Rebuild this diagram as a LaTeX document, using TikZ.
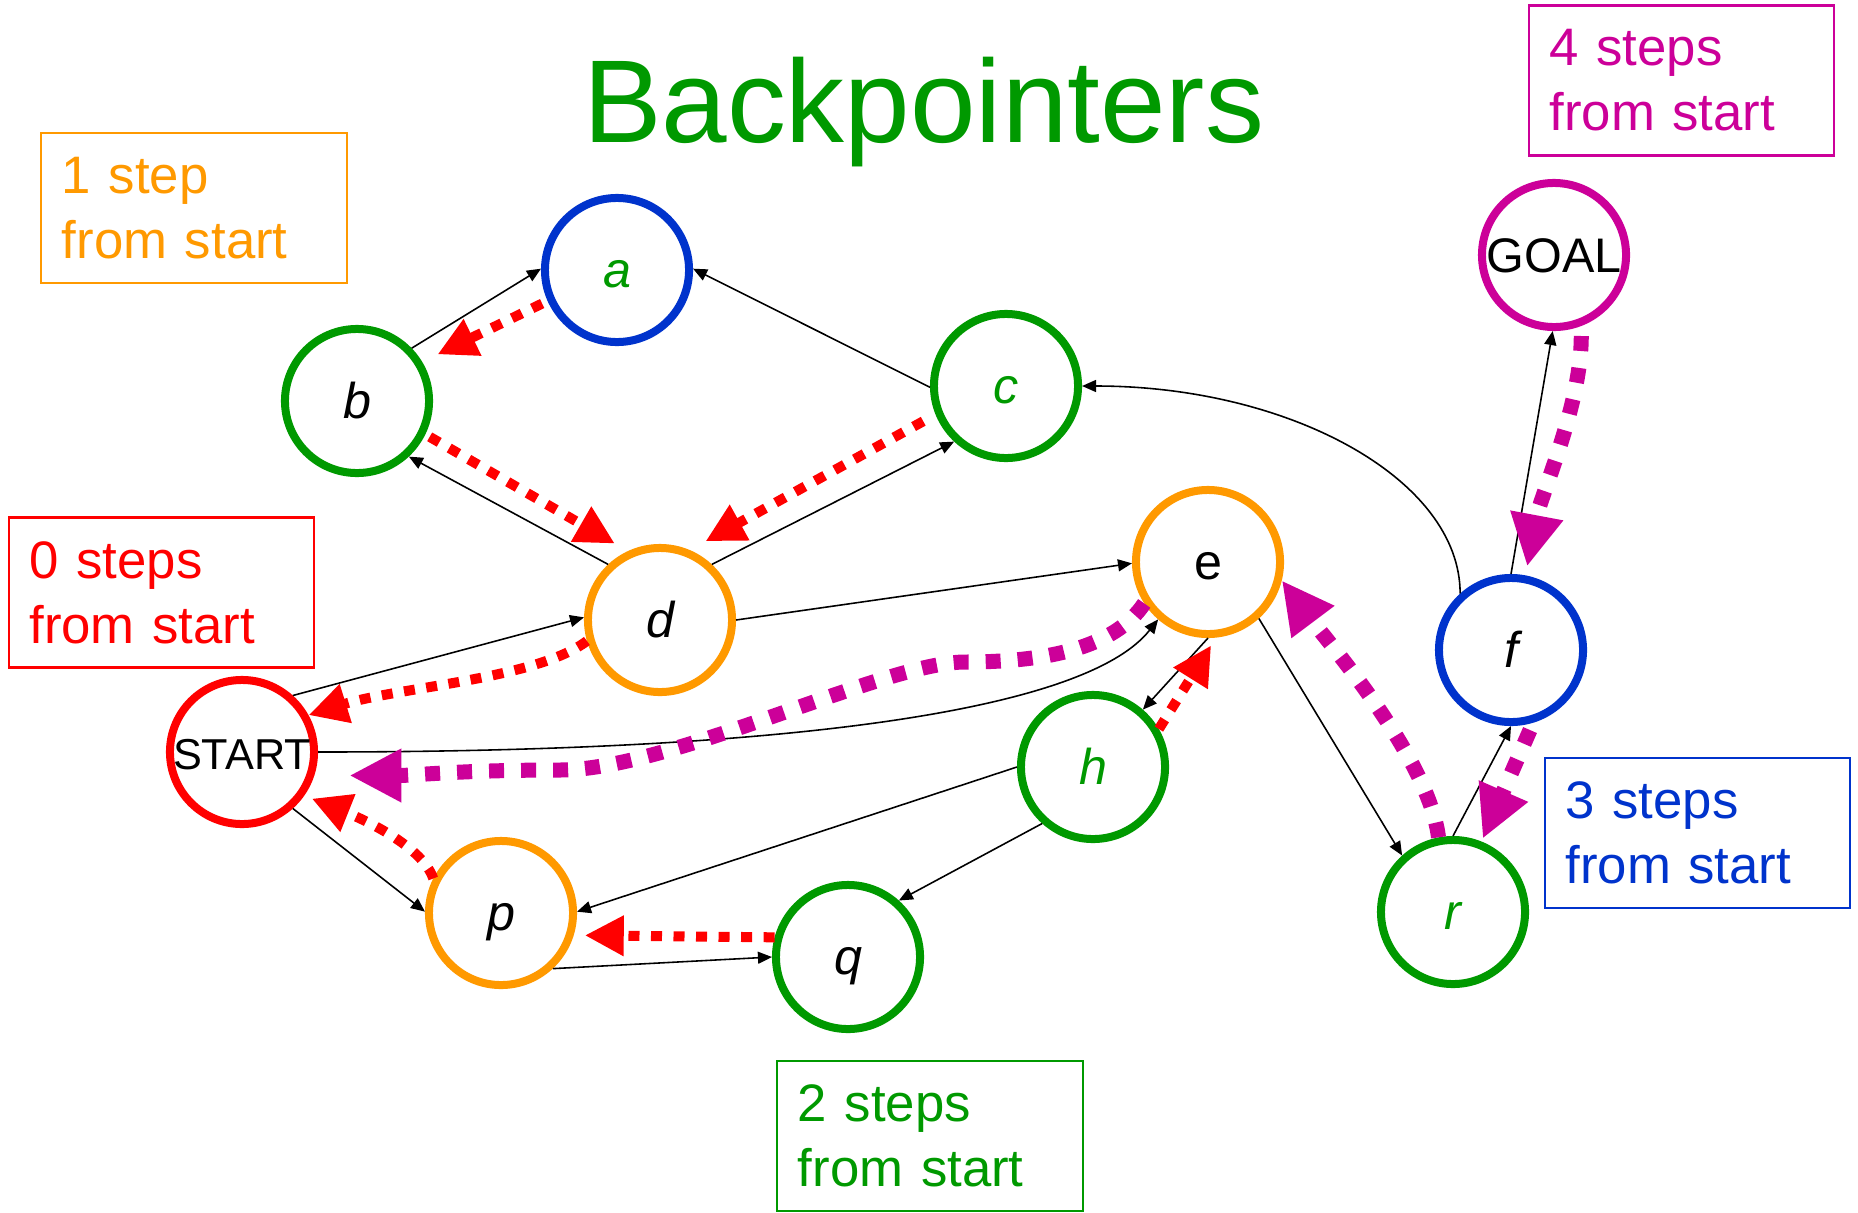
\documentclass[tikz,border=0pt]{standalone}
\usepackage{fontspec}
\setmainfont{Liberation Sans}
\usetikzlibrary{arrows.meta,shapes.geometric}
\definecolor{cgreen}{RGB}{0,153,0}
\definecolor{corange}{RGB}{255,153,0}
\definecolor{cblue}{RGB}{0,51,204}
\definecolor{cred}{RGB}{255,0,0}
\definecolor{cmag}{RGB}{204,0,153}
\begin{document}
\begin{tikzpicture}[x=0.01cm,y=-0.01cm,
  state/.style={circle, minimum size=1.44cm, inner sep=0pt, line width=0.8mm, draw,
     font=\fontsize{14.3}{14.3}\selectfont\itshape, text height=10.2pt, text depth=0pt},
  edge/.style={-{Triangle[length=1.4mm,width=1.2mm]}, line width=0.45pt, black},
  rback/.style={-{Triangle[length=3.9mm,width=3.8mm]}, line width=1.0mm, cred,
     dash pattern=on 1.1mm off 1.15mm},
  mback/.style={-{Triangle[length=5.2mm,width=5.0mm]}, line width=1.5mm, cmag,
     dash pattern=on 1.5mm off 1.7mm},
  stepbox/.style={rectangle, minimum width=3.05cm, minimum height=1.5cm, line width=0.6pt,
     inner sep=0pt, text width=2.64cm, align=left, font=\fontsize{15}{18.5}\selectfont}
]
\useasboundingbox (0,0) rectangle (1858,1212);

% title
\node[font=\fontsize{33.5}{40}\selectfont, text=cgreen, anchor=base] (title) at (923.5,142) {Backpointers};

% boxes
\node[stepbox, draw=corange, text=corange] (box1) at (194,208) {1 step\\from start};
\node[stepbox, draw=cred, text=cred] (box0) at (161.5,592.5) {0 steps\\from start};
\node[stepbox, draw=cmag, text=cmag] (box4) at (1681.5,80.5) {4 steps\\from start};
\node[stepbox, draw=cblue, text=cblue] (box3) at (1697.5,833) {3 steps\\from start};
\node[stepbox, draw=cgreen, text=cgreen] (box2) at (930,1136) {2 steps\\from start};

% states
\node[state, draw=cblue, text=cgreen] (a) at (617,270) {a};
\node[state, draw=cgreen] (b) at (357,401) {b};
\node[state, draw=cgreen, text=cgreen] (c) at (1006,386) {c};
\node[state, draw=corange] (d) at (660,620) {d};
\node[state, draw=corange, font=\fontsize{14.3}{14.3}\selectfont\upshape] (e) at (1208,562) {e};
\node[state, draw=cred, font=\fontsize{12.3}{12.3}\selectfont\upshape] (start) at (242,752) {START};
\node[state, draw=cmag, font=\fontsize{13.8}{13.8}\selectfont\upshape] (goal) at (1554,255) {GOAL};
\node[state, draw=cblue] (f) at (1511,650) {f};
\node[state, draw=cgreen, text=cgreen] (h) at (1093,767) {h};
\node[state, draw=corange] (p) at (501,913) {p};
\node[state, draw=cgreen] (q) at (848,957) {q};
\node[state, draw=cgreen, text=cgreen] (r) at (1453,912) {r};

% graph edges
\draw[edge] (b.44) -- (a.179);
\draw[edge] (c.181) -- (a.1);
\draw[edge] (d.133) -- (b.-47);
\draw[edge] (d.47) -- (c.227);
\draw[edge] (d.0) -- (e.181);
\draw[edge] (start.48) -- (d.178);
\draw[edge] (start.0) .. controls +(450,0) and +(-75,95) .. (e.229);
\draw[edge] (start.-48) -- (p.179);
\draw[edge] (e.270) -- (h.49);
\draw[edge] (e.-48) -- (r.132);
\draw[edge] (h.180) -- (p.1);
\draw[edge] (h.228) -- (q.48);
\draw[edge] (p.-47) -- (q.180);
\draw[edge] (r.90) -- (f.270);
\draw[edge] (f.90) -- (goal.269);
\draw[edge] (f.132) .. controls +(0,-114) and +(208,0) .. (c.0);

% red backpointers
\draw[rback, shorten <=0.6mm, shorten >=1.7mm] (a.204) -- (b.31);
\draw[rback, shorten <=0.5mm, shorten >=1.5mm] (b.-26) -- (d.115);
\draw[rback, shorten <=1.4mm, shorten >=1.8mm] (c.202) -- (d.67);
\draw[rback] (d.196) .. controls +(-50,38) and +(90,-28) .. (start.29);
\draw[rback, shorten >=0.8mm] (p.153) .. controls +(-12,-35) and +(50,20) .. (start.-35);
\draw[rback, shorten >=1.1mm] (q.165) -- (p.-17);
\draw[rback, shorten >=0.9mm] (h.30) -- (e.-84);

% magenta path
\coordinate (m1) at (965,662);
\coordinate (m2) at (560,770);
\draw[mback, shorten <=1mm, shorten >=0.9mm] (goal.-69) .. controls +(0,80) and +(15,-80) .. (f.79);
\draw[mback, shorten <=0.8mm, shorten >=0.3mm] (f.-73) -- (r.68);
\draw[mback] (r.101) .. controls +(-10,-80) and +(45,60) .. (e.-14);
\draw[mback, shorten >=3.5mm] (e.213) .. controls +(-30,45) and +(80,0) .. (m1)
   .. controls +(-80,0) and +(110,0) .. (m2)
   .. controls +(-100,0) and +(100,0) .. (start.-18);
\end{tikzpicture}
\end{document}
